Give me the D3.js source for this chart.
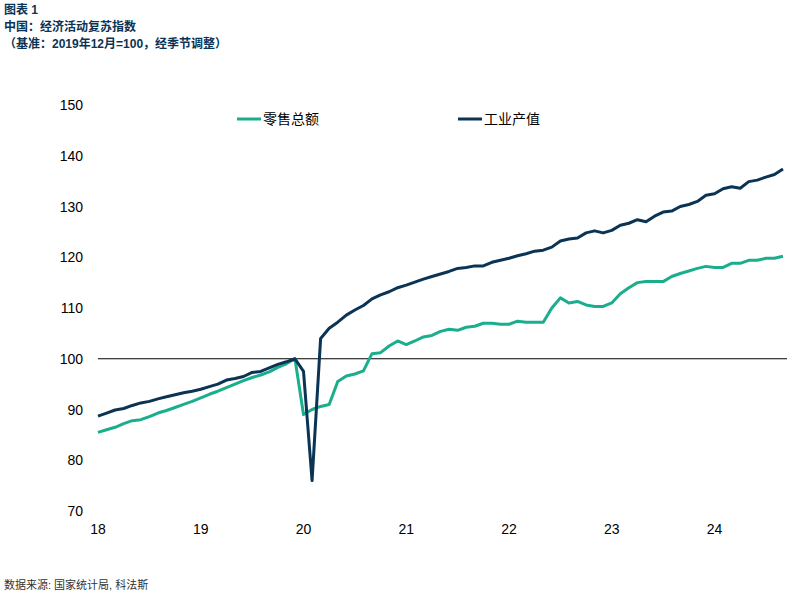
<!DOCTYPE html>
<html><head><meta charset="utf-8">
<script src="https://cdn.jsdelivr.net/npm/d3@7"></script>
<style>
body{margin:0;background:#fff;font-family:Arial,"Liberation Sans","Noto Sans CJK SC",sans-serif}
</style></head><body>
<svg width="803" height="609"></svg>
<script>
var yearLabels = ["18","19","20","21","22","23","24"];
var yTicks = [70,80,90,100,110,120,130,140,150];
var seriesNames = ["零售总额","工业产值"];
var retail = [
 85.5,86,86.5,87.2,87.8,88,88.6,89.3,89.8,90.4,91,91.6,
 92.3,93,93.6,94.3,95,95.7,96.3,96.8,97.4,98.3,99,100,
 89,90,90.6,91,95.5,96.6,97,97.6,101,101.2,102.5,103.5,
 102.8,103.5,104.3,104.6,105.4,105.8,105.6,106.2,106.4,107,107,106.8,
 106.8,107.4,107.2,107.2,107.2,110,112,111,111.3,110.6,110.3,110.3,
 111,112.8,114,115,115.2,115.2,115.2,116.2,116.8,117.3,117.8,118.2,
 118,118,118.8,118.8,119.4,119.4,119.8,119.8,120.2];
var industry = [
 88.7,89.3,89.9,90.2,90.8,91.3,91.6,92.1,92.5,92.9,93.3,93.6,
 94,94.5,95,95.8,96.1,96.5,97.3,97.5,98.2,98.9,99.4,100,
 97.5,76,104,106,107.2,108.6,109.6,110.5,111.8,112.6,113.2,114,
 114.5,115.1,115.7,116.2,116.7,117.2,117.8,118,118.3,118.3,119,119.4,
 119.8,120.3,120.7,121.2,121.4,122,123.2,123.6,123.8,124.8,125.2,124.8,
 125.3,126.3,126.7,127.4,127,128.1,128.9,129.1,130,130.4,131,132.2,
 132.5,133.5,133.9,133.6,134.9,135.2,135.8,136.3,137.4];
var colors = ["#1aae8c","#0b3354"];

var svg = d3.select("svg");
var x = d3.scaleLinear().domain([0,80]).range([98, 783]);
var y = d3.scaleLinear().domain([70,150]).range([511,105]);

// titres
var t = svg.append("g").attr("fill","#0b3354").attr("font-weight","bold").attr("font-size",12);
t.append("text").attr("x",4).attr("y",14).text("图表 1");
t.append("text").attr("x",4).attr("y",31).text("中国：经济活动复苏指数");
t.append("text").attr("x",4).attr("y",48).text("（基准：2019年12月=100，经季节调整）");

// axes
svg.append("g").selectAll("text").data(yTicks).join("text")
  .attr("x",83).attr("y",d=>y(d)+5).attr("text-anchor","end")
  .attr("font-size",14).attr("fill","#000").text(d=>d);
svg.append("g").selectAll("text").data(yearLabels).join("text")
  .attr("x",(d,i)=>x(i*12)).attr("y",534).attr("text-anchor","middle")
  .attr("font-size",14).attr("fill","#000").text(d=>d);
svg.append("line").attr("x1",x(0)).attr("x2",787)
  .attr("y1",y(100)).attr("y2",y(100)).attr("stroke","#000").attr("stroke-width",1);

var line = d3.line().x((d,i)=>x(i)).y(d=>y(d));
[retail, industry].forEach(function(s,k){
  svg.append("path").datum(s).attr("d",line).attr("fill","none")
    .attr("stroke",colors[k]).attr("stroke-width",3).attr("stroke-linejoin","round");
});

// légende
var lx = [237,458];
seriesNames.forEach(function(n,k){
  svg.append("line").attr("x1",lx[k]).attr("x2",lx[k]+24).attr("y1",119).attr("y2",119)
    .attr("stroke",colors[k]).attr("stroke-width",3);
  svg.append("text").attr("x",lx[k]+26).attr("y",124).attr("font-size",14).text(n);
});

svg.append("text").attr("x",4).attr("y",589).attr("font-size",11).attr("fill","#333")
  .text("数据来源: 国家统计局, 科法斯");
</script></body></html>
